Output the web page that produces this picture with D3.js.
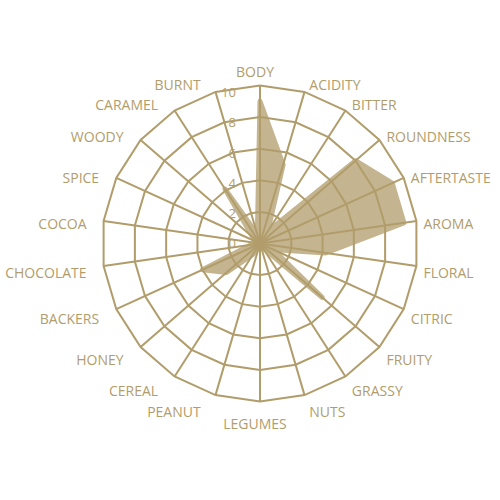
<!DOCTYPE html>
<html>
<head>
<meta charset="utf-8">
<script src="https://cdn.jsdelivr.net/npm/d3@7"></script>
<style>
  body { margin: 0; background: #fff; }
  text { font-family: "Open Sans", sans-serif; fill: #b19d6b; }
</style>
</head>
<body>
<div id="chart"></div>
<script>
// flavour axes, clockwise from the top
const attributes = ["BODY", "ACIDITY", "BITTER", "ROUNDNESS", "AFTERTASTE", "AROMA", "FLORAL",
  "CITRIC", "FRUITY", "GRASSY", "NUTS", "LEGUMES", "PEANUT", "CEREAL", "HONEY", "BACKERS",
  "CHOCOLATE", "COCOA", "SPICE", "WOODY", "CARAMEL", "BURNT"]
const scores = [9.0, 5.2, 0.9, 8.0, 9.2, 9.2, 4.2, 0.9, 5.2, 0.3, 0.3, 0.3, 0.3, 0.8, 2.8, 4.0,
  0.6, 0.3, 0.3, 0.6, 4.1, 0.6]
const levels = [2, 4, 6, 8, 10]
const tickLabels = [0, 2, 4, 6, 8, 10]

const width = 500
const height = 500
const cx = 260
const cy = 243.5
const gold = "#b19d6b"

const svg = d3.select("#chart").append("svg")
    .attr("width", width)
    .attr("height", height)

const g = svg.append("g")
    .attr("transform", `translate(${cx},${cy})`)

const rScale = d3.scaleLinear()
  .domain([0, 10])
  .range([0, 158])

const angleScale = d3.scaleBand()
  .domain(attributes)
  .range([0, 2 * Math.PI])

const angle = d => angleScale(d)

// rings as 22-sided polygons
const ring = d3.lineRadial()
  .angle(d => angle(d))
  .curve(d3.curveLinearClosed)

g.selectAll(".ring")
  .data(levels)
  .join("path")
  .attr("class", "ring")
  .attr("d", lv => ring.radius(rScale(lv))(attributes))
  .attr("fill", "none")
  .attr("stroke", gold)
  .attr("stroke-width", 2)

// spokes
g.selectAll(".spoke")
  .data(attributes)
  .join("line")
  .attr("class", "spoke")
  .attr("x1", 0)
  .attr("y1", 0)
  .attr("x2", d => rScale(10) * Math.sin(angle(d)))
  .attr("y2", d => -rScale(10) * Math.cos(angle(d)))
  .attr("stroke", gold)
  .attr("stroke-width", 2)

// the flavour shape - stroked so the thin spikes keep some body
const area = d3.lineRadial()
  .angle((d, i) => angle(attributes[i]))
  .radius(d => rScale(d))
  .curve(d3.curveLinearClosed)

g.append("path")
  .datum(scores)
  .attr("d", area)
  .attr("fill", gold)
  .attr("stroke", gold)
  .attr("stroke-width", 5)
  .attr("stroke-linejoin", "round")
  .attr("opacity", 0.75)

// scale numbers up the left of the top spoke
g.selectAll(".tick")
  .data(tickLabels)
  .join("text")
  .attr("class", "tick")
  .attr("x", -24)
  .attr("y", d => -rScale(d) * 0.955)
  .attr("dy", "0.35em")
  .attr("text-anchor", "end")
  .attr("font-size", 13)
  .text(d => d)

// attribute names round the outside
const labelR = 170
g.selectAll(".label")
  .data(attributes)
  .join("text")
  .attr("class", "label")
  .attr("x", d => {
    const s = Math.sin(angle(d))
    const c = Math.cos(angle(d))
    return -5 + labelR * s + Math.sign(Math.round(s * 100)) * 7 * c * c
  })
  .attr("y", d => {
    const c = Math.cos(angle(d))
    const extra = Math.abs(c) > 0.99 ? 6 : 0
    return 5 - (labelR + extra) * c
  })
  .attr("dy", "0.35em")
  .attr("text-anchor", d => {
    const s = Math.sin(angle(d))
    if (Math.abs(s) < 0.05) return "middle"
    return s > 0 ? "start" : "end"
  })
  .attr("font-size", 14)
  .text(d => d)
</script>
</body>
</html>
